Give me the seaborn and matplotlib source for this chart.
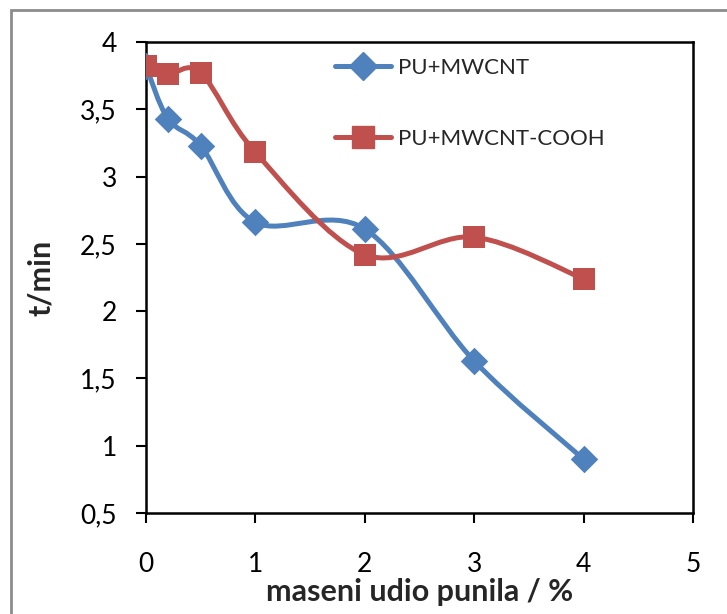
import numpy as np
import matplotlib
matplotlib.use('Agg')
import matplotlib.pyplot as plt
import seaborn as sns
from matplotlib.path import Path
from matplotlib.patches import PathPatch, Rectangle
from matplotlib.lines import Line2D
from matplotlib.ticker import FuncFormatter, MultipleLocator

# data
filler_pct = [0, 0.2, 0.5, 1, 2, 3, 4]
t_mwcnt = [3.82, 3.43, 3.23, 2.66, 2.61, 1.63, 0.90]
t_mwcnt_cooh = [3.82, 3.76, 3.77, 3.18, 2.42, 2.55, 2.24]
series_names = ['PU+MWCNT', 'PU+MWCNT-COOH']
series_colors = ['#4F81BD', '#C0504D']
series_markers = ['D', 's']


def smooth_path(xs, ys):
    # Excel-like smoothed line: Catmull-Rom segments as cubic Bezier curves
    pts = np.column_stack([xs, ys]).astype(float)
    n = len(pts)
    verts = [pts[0]]
    codes = [Path.MOVETO]
    for i in range(n - 1):
        p0 = pts[i - 1] if i > 0 else pts[i]
        p1 = pts[i]
        p2 = pts[i + 1]
        p3 = pts[i + 2] if i + 2 < n else pts[i + 1]
        c1 = p1 + (p2 - p0) / 6.0
        c2 = p2 - (p3 - p1) / 6.0
        verts += [c1, c2, p2]
        codes += [Path.CURVE4] * 3
    return Path(verts, codes)


sns.set_style('white')
plt.rcParams['font.family'] = ['Lato', 'DejaVu Sans']

fig = plt.figure(figsize=(7.27, 6.14), dpi=100)
ax = fig.add_axes([146 / 727, 1 - 513 / 614, 547 / 727, 471 / 614])

handles = []
for ys, name, col, mk, ms in zip([t_mwcnt, t_mwcnt_cooh], series_names,
                                 series_colors, series_markers, [14, 16]):
    ax.add_patch(PathPatch(smooth_path(filler_pct, ys), facecolor='none',
                           edgecolor=col, lw=3.6, capstyle='round', zorder=2))
    sns.scatterplot(x=filler_pct, y=ys, marker=mk, s=ms ** 2, color=col,
                    linewidth=0, ax=ax, zorder=3)
    handles.append(Line2D([], [], color=col, lw=3.6, marker=mk, markersize=ms,
                          solid_capstyle='round', label=name))

ax.set_xlim(0, 5)
ax.set_ylim(0.5, 4)
ax.xaxis.set_major_locator(MultipleLocator(1))
ax.yaxis.set_major_locator(MultipleLocator(0.5))
fmt = FuncFormatter(lambda v, p: ('%g' % v).replace('.', ','))
ax.xaxis.set_major_formatter(fmt)
ax.yaxis.set_major_formatter(fmt)

for s in ax.spines.values():
    s.set_color('black')
    s.set_linewidth(1.8)
ax.tick_params(axis='x', bottom=True, direction='out', length=7, width=1.5,
               labelsize=19, pad=21, colors='black')
ax.tick_params(axis='y', left=True, direction='out', length=7, width=1.5,
               labelsize=19, pad=14, colors='black')

ax.set_xlabel('maseni udio punila / %', fontsize=22, fontweight='bold', labelpad=1)
ax.set_ylabel('t/min', fontsize=22, fontweight='bold', labelpad=18)

ax.legend(handles=handles, loc='upper left', bbox_to_anchor=(0.33, 0.985),
          frameon=False, fontsize=16, handlelength=2.5, labelspacing=2.3,
          handletextpad=0.3, borderaxespad=0)

fig.patches.append(Rectangle((11 / 727, -0.2), 1.2, 1.2 - 10 / 614,
                             transform=fig.transFigure, fill=False,
                             edgecolor='#8C8C8C', lw=2))

fig.savefig('out.png', dpi=100)
